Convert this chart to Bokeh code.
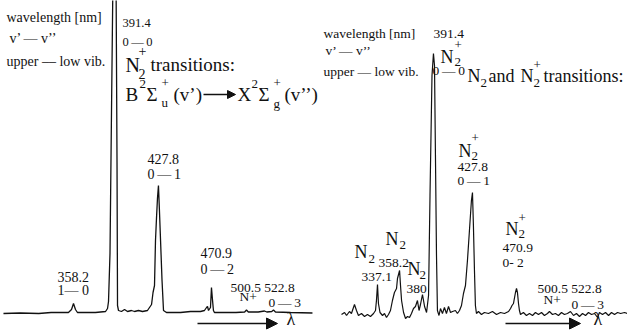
from bokeh.plotting import figure
from bokeh.models import Range1d, Label, Arrow, NormalHead
from bokeh.layouts import row
from bokeh.embed import file_html
from bokeh.resources import INLINE

# ---------------- data (wavelength in nm, intensity in arbitrary units) ----------------
left_wavelength = [301.4, 315.0, 330.0, 340.0, 354.1, 356.6, 358.2, 359.8, 361.4, 376.0,
                   384.2, 385.8, 386.6, 387.8, 389.0, 390.0, 391.4, 392.8, 393.5, 393.9,
                   394.7, 397.1, 399.6, 402.0, 405.2, 407.7, 410.9, 414.2, 418.2, 421.5,
                   422.7, 423.9, 424.7, 425.5, 426.3, 427.1, 427.9, 428.8, 430.0, 431.2,
                   433.6, 445.0, 453.1, 461.2, 464.4, 466.1, 466.9, 467.7, 469.3, 470.1,
                   470.9, 471.7, 472.5, 480.0, 490.0, 497.0, 498.5, 500.0, 508.0, 513.1,
                   515.0, 519.0, 520.4, 522.0, 534.2, 552.0]
left_intensity = [0, 0.5, 0, 1, 1, 4, 10, 4, 1, 1,
                  2, 5, 12, 60, 200, 313, 380, 313, 150, 8,
                  3, 2, 4, 2, 3, 2, 3, 2, 3, 9,
                  21, 28, 73, 95, 115, 128, 103, 73, 33, 3,
                  1, 1, 2, 2, 3, 6, 7, 3, 6, 26,
                  14, 3, 1, 1, 1, 1.5, 3.5, 1.5, 1.5, 2.5,
                  1.5, 2, 3.5, 1.5, 1, 0.5]

right_wavelength = [302.7, 305.6, 307.5, 310.3, 312.2, 315.1, 317.0, 318.9, 321.8, 324.7,
                    327.5, 330.4, 333.3, 335.2, 336.1, 337.1, 338.0, 339.5, 341.9, 343.8,
                    345.7, 347.6, 349.5, 351.4, 353.3, 355.3, 356.2, 358.2, 359.1, 360.1,
                    362.0, 363.9, 365.8, 367.7, 369.6, 371.5, 373.4, 375.3, 376.8, 378.2,
                    380.1, 382.1, 384.0, 385.9, 387.3, 389.2, 390.6, 391.6, 392.5, 393.5,
                    394.4, 395.9, 397.3, 399.2, 401.1, 403.0, 405.0, 406.9, 408.8, 411.6,
                    413.5, 415.5, 417.4, 419.3, 421.2, 423.1, 425.0, 426.9, 427.9, 428.8,
                    429.8, 430.7, 431.7, 433.6, 436.5, 439.3, 443.2, 447.0, 450.9, 454.7,
                    458.5, 462.4, 464.3, 465.7, 467.1, 469.0, 470.0, 470.9, 471.9, 472.8,
                    473.8, 476.6, 479.5, 482.4, 485.3, 488.1, 491.0, 493.9, 496.7, 499.6,
                    501.5, 504.4, 507.2, 510.1, 513.0, 515.8, 518.7, 521.6, 524.5, 527.3,
                    530.2, 533.1, 536.0, 538.8, 541.7, 544.6, 547.5, 549.3, 552.2, 555.1,
                    558.0, 560.8, 563.7, 566.6, 569.5, 573.3, 576.1]
right_intensity = [1, 3, 0, 4, 2, 11, 5, 0, 2, -1,
                   1, -1, 2, 5, 15, 31, 12, 3, 0, 2,
                   -2, 1, 5, 15, 23, 27, 37, 45, 30, 15,
                   3, -3, -1, -2, 2, 7, 9, 15, 5, 11,
                   21, 9, 3, 20, 120, 240, 262, 250, 160, 60,
                   5, 0, 7, 2, 8, 2, 9, 3, 4, 5,
                   2, 5, 10, 22, 30, 55, 85, 115, 123, 90,
                   45, 10, 2, 4, 1, 3, 2, 4, 1, 3,
                   2, 4, 7, 10, 12, 23, 27, 23, 12, 5,
                   1, 3, 0, 2, 0, 3, 1, 3, 0, 2,
                   4, 1, 2, 0, 3, 1, 2, 4, 0, 2,
                   -1, 2, 0, 3, 1, 2, -2, 3, 1, 3,
                   0, 3, 1, 3, 2, 3, 2]

FONT = "Liberation Serif"
INK = "#111111"


# page pixel -> data helpers for placing annotations
def L_x(px):
    return 358.2 + (px - 73) / 1.233


def L_y(py):
    return 313 - py


def R_x(px):
    return 337.1 + (px - 377) / 1.046


def R_y(py):
    return 315 - py


def make_fig(w, xr, yr):
    p = figure(width=w, height=331, x_range=Range1d(*xr), y_range=Range1d(*yr),
               toolbar_location=None, output_backend="svg",
               x_axis_location=None, y_axis_location=None, min_border=0)
    p.grid.visible = False
    p.outline_line_color = None
    p.background_fill_color = "white"
    p.border_fill_color = "white"
    return p


pL = make_fig(318, (L_x(0), L_x(318)), (L_y(331), L_y(0)))
pR = make_fig(309, (R_x(318), R_x(627)), (R_y(331), R_y(0)))

pL.line(left_wavelength, left_intensity, line_color=INK, line_width=1.3)
pR.line(right_wavelength, right_intensity, line_color=INK, line_width=1.2)


def txt(p, fx, fy, px, py, s, size):
    p.add_layout(Label(x=fx(px), y=fy(py), text=s, text_font=FONT,
                       text_font_size=f"{size}px", text_color=INK,
                       text_baseline="middle", text_align="left"))


def arrow(p, fx, fy, px0, px1, py, head, lw):
    p.add_layout(Arrow(end=NormalHead(size=head, fill_color=INK, line_color=INK),
                       x_start=fx(px0), y_start=fy(py), x_end=fx(px1), y_end=fy(py),
                       line_color=INK, line_width=lw))


TS = "\u2009"

# ---------------- left panel texts ----------------
def tl(px, py, s, size):
    txt(pL, L_x, L_y, px, py, s, size)


tl(6, 17, "wavelength [nm]", 14)
tl(9, 38, "v’ —  v’’", 14)
tl(6, 61, "upper –– low vib.", 14)
tl(122, 22, "391.4", 12.5)
tl(122, 41, "0" + TS + "—" + TS + "0", 12.5)
tl(125, 64, "N", 20)
tl(138, 50, "+", 14)
tl(138, 73, "2", 14)
tl(150, 64, "transitions:", 19)
tl(125, 94, "B", 19)
tl(139, 83, "2", 13)
tl(146, 94, "Σ", 19)
tl(161, 82, "+", 13)
tl(161, 102, "u", 13)
tl(173, 94, "(v’)", 19)
arrow(pL, L_x, L_y, 203, 235, 94, 8, 1.3)
tl(237, 94, "X", 19)
tl(251, 83, "2", 13)
tl(258, 94, "Σ", 19)
tl(273, 82, "+", 13)
tl(273, 103, "g", 13)
tl(284, 94, "(v’’)", 19)

tl(147, 158, "427.8", 14)
tl(147, 174, "0" + TS + "—" + TS + "1", 14)
tl(57, 276, "358.2", 14)
tl(57, 290, "1—  0", 14)
tl(200, 252, "470.9", 14)
tl(200, 269, "0" + TS + "—" + TS + "2", 14)
tl(230, 287, "500.5 522.8", 13.5)
tl(239, 296, "N+", 13.5)
tl(268, 302, "0" + TS + "—" + TS + "3", 13.5)
arrow(pL, L_x, L_y, 197, 277, 323, 11, 1.5)
tl(286, 318, "λ", 18)


# ---------------- right panel texts ----------------
def tr(px, py, s, size):
    txt(pR, R_x, R_y, px, py, s, size)


tr(323, 33, "wavelength [nm]", 13.5)
tr(325, 50, "v’ —  v’’", 13.5)
tr(323, 71, "upper — low vib.", 13.5)
tr(433, 33, "391.4", 13.5)
tr(440, 56, "N", 18)
tr(454, 44, "+", 13)
tr(454, 61, "2", 13)
tr(432, 70, "0" + TS + "—" + TS + "0", 13.5)

tr(467, 75, "N", 18)
tr(480, 82, "2", 13)
tr(488, 75, "and", 18)
tr(520, 75, "N", 18)
tr(533, 64, "+", 13)
tr(533, 82, "2", 13)
tr(543, 75, "transitions:", 18)

tr(458, 150, "N", 18)
tr(471, 137, "+", 13)
tr(471, 155, "2", 13)
tr(457, 166, "427.8", 13.5)
tr(457, 180, "0" + TS + "—" + TS + "1", 13.5)

tr(505, 228, "N", 18)
tr(518, 217, "+", 13)
tr(518, 233, "2", 13)
tr(502, 247, "470.9", 13.5)
tr(502, 262, "0-    2", 13.5)

tr(354, 251, "N", 18)
tr(368, 258, "2", 13)
tr(361, 276, "337.1", 13.5)
tr(385, 238, "N", 18)
tr(399, 244, "2", 13)
tr(378, 262, "358.2", 13.5)
tr(407, 268, "N", 18)
tr(419, 274, "2", 13)
tr(406, 288, "380", 13.5)

tr(537, 288, "500.5 522.8", 13.5)
tr(543, 299, "N+", 13.5)
tr(571, 304, "0" + TS + "—" + TS + "3", 13.5)
arrow(pR, R_x, R_y, 505, 580, 323, 11, 1.5)
tr(593, 318, "λ", 18)

layout = row(pL, pR)
open("out.html", "w").write(file_html(layout, INLINE))
